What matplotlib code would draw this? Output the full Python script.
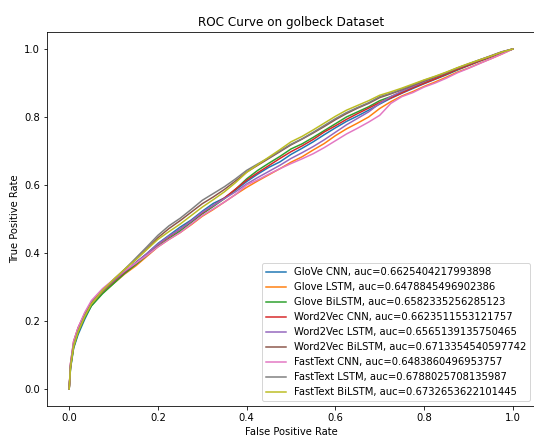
import matplotlib
matplotlib.use("Agg")
import matplotlib.pyplot as plt

# false positive rate grid shared by all curves
fpr = [0, 0.003, 0.01, 0.02, 0.035, 0.05, 0.075, 0.1, 0.125, 0.15, 0.175, 0.2,
       0.225, 0.25, 0.275, 0.3, 0.325, 0.35, 0.375, 0.4, 0.425, 0.45, 0.475, 0.5,
       0.525, 0.55, 0.575, 0.6, 0.625, 0.65, 0.675, 0.7, 0.725, 0.75, 0.775, 0.8,
       0.825, 0.85, 0.875, 0.9, 0.925, 0.95, 0.975, 1.0]

# true positive rates
glove_cnn = [0, 0.06, 0.12, 0.16, 0.205, 0.245, 0.283, 0.312, 0.343, 0.372, 0.398, 0.428,
             0.452, 0.476, 0.497, 0.523, 0.546, 0.562, 0.585, 0.61, 0.632, 0.652, 0.668, 0.69,
             0.708, 0.727, 0.748, 0.768, 0.787, 0.803, 0.82, 0.838, 0.855, 0.87, 0.884, 0.898,
             0.911, 0.924, 0.938, 0.951, 0.964, 0.976, 0.989, 1.0]
glove_lstm = [0, 0.065, 0.125, 0.168, 0.212, 0.248, 0.282, 0.31, 0.338, 0.362, 0.39, 0.418,
              0.44, 0.46, 0.483, 0.508, 0.528, 0.55, 0.572, 0.593, 0.612, 0.63, 0.648, 0.667,
              0.683, 0.703, 0.722, 0.745, 0.765, 0.782, 0.8, 0.825, 0.845, 0.862, 0.875, 0.89,
              0.903, 0.917, 0.932, 0.944, 0.958, 0.971, 0.985, 1.0]
glove_bilstm = [0, 0.062, 0.122, 0.165, 0.21, 0.244, 0.28, 0.31, 0.34, 0.366, 0.393, 0.42,
                0.443, 0.465, 0.49, 0.515, 0.537, 0.56, 0.587, 0.618, 0.643, 0.664, 0.684, 0.706,
                0.721, 0.74, 0.76, 0.78, 0.8, 0.815, 0.83, 0.848, 0.86, 0.873, 0.887, 0.901,
                0.913, 0.926, 0.94, 0.953, 0.966, 0.978, 0.99, 1.0]
w2v_cnn = [0, 0.075, 0.14, 0.18, 0.222, 0.255, 0.288, 0.316, 0.344, 0.37, 0.397, 0.425,
           0.448, 0.47, 0.494, 0.518, 0.54, 0.562, 0.588, 0.614, 0.636, 0.657, 0.678, 0.698,
           0.715, 0.734, 0.756, 0.774, 0.793, 0.81, 0.826, 0.843, 0.856, 0.871, 0.886, 0.899,
           0.912, 0.926, 0.94, 0.952, 0.965, 0.977, 0.99, 1.0]
w2v_lstm = [0, 0.072, 0.135, 0.175, 0.22, 0.255, 0.29, 0.318, 0.346, 0.37, 0.398, 0.426,
            0.45, 0.47, 0.494, 0.52, 0.54, 0.56, 0.58, 0.603, 0.622, 0.64, 0.658, 0.678,
            0.695, 0.713, 0.733, 0.755, 0.777, 0.796, 0.815, 0.84, 0.86, 0.876, 0.89, 0.904,
            0.917, 0.93, 0.944, 0.956, 0.968, 0.98, 0.992, 1.0]
w2v_bilstm = [0, 0.068, 0.13, 0.172, 0.218, 0.252, 0.29, 0.322, 0.352, 0.38, 0.412, 0.445,
              0.472, 0.495, 0.52, 0.545, 0.565, 0.587, 0.612, 0.638, 0.658, 0.678, 0.698, 0.718,
              0.735, 0.753, 0.772, 0.792, 0.81, 0.826, 0.84, 0.857, 0.868, 0.88, 0.893, 0.906,
              0.917, 0.929, 0.943, 0.955, 0.967, 0.979, 0.991, 1.0]
ft_cnn = [0, 0.075, 0.14, 0.18, 0.225, 0.26, 0.295, 0.322, 0.348, 0.37, 0.393, 0.418,
          0.44, 0.46, 0.485, 0.51, 0.53, 0.55, 0.572, 0.6, 0.615, 0.632, 0.648, 0.663,
          0.677, 0.692, 0.71, 0.73, 0.75, 0.767, 0.785, 0.805, 0.84, 0.86, 0.872, 0.888,
          0.9, 0.914, 0.93, 0.943, 0.957, 0.971, 0.985, 1.0]
ft_lstm = [0, 0.068, 0.128, 0.17, 0.215, 0.25, 0.288, 0.32, 0.352, 0.385, 0.418, 0.452,
           0.48, 0.502, 0.528, 0.555, 0.575, 0.595, 0.618, 0.643, 0.662, 0.68, 0.7, 0.72,
           0.736, 0.755, 0.775, 0.795, 0.813, 0.828, 0.842, 0.86, 0.87, 0.882, 0.895, 0.908,
           0.919, 0.931, 0.944, 0.956, 0.968, 0.979, 0.991, 1.0]
ft_bilstm = [0, 0.065, 0.126, 0.168, 0.213, 0.25, 0.29, 0.322, 0.352, 0.38, 0.41, 0.44,
             0.463, 0.485, 0.51, 0.535, 0.557, 0.58, 0.607, 0.637, 0.66, 0.682, 0.704, 0.727,
             0.743, 0.762, 0.782, 0.802, 0.82, 0.834, 0.848, 0.864, 0.874, 0.885, 0.897, 0.909,
             0.92, 0.932, 0.945, 0.957, 0.968, 0.979, 0.991, 1.0]

curves = [glove_cnn, glove_lstm, glove_bilstm, w2v_cnn, w2v_lstm, w2v_bilstm,
          ft_cnn, ft_lstm, ft_bilstm]
labels = ["GloVe CNN", "Glove LSTM", "Glove BiLSTM", "Word2Vec CNN", "Word2Vec LSTM",
          "Word2Vec BiLSTM", "FastText CNN", "FastText LSTM", "FastText BiLSTM"]
aucs = ["0.6625404217993898", "0.6478845496902386", "0.6582335256285123",
        "0.6623511553121757", "0.6565139135750465", "0.6713354540597742",
        "0.6483860496953757", "0.6788025708135987", "0.6732653622101445"]

fig = plt.figure(figsize=(534 / 72, 440 / 72), dpi=72)
ax = fig.add_axes([47 / 534, 34 / 440, 488 / 534, 374 / 440])

for tpr, name, auc in zip(curves, labels, aucs):
    ax.plot(fpr, tpr, label=f"{name}, auc={auc}")

ax.set_title("ROC Curve on golbeck Dataset")
ax.set_xlabel("False Positive Rate")
ax.set_ylabel("True Positive Rate")
ax.legend(loc="lower right")

fig.savefig("out.png", dpi=72)
